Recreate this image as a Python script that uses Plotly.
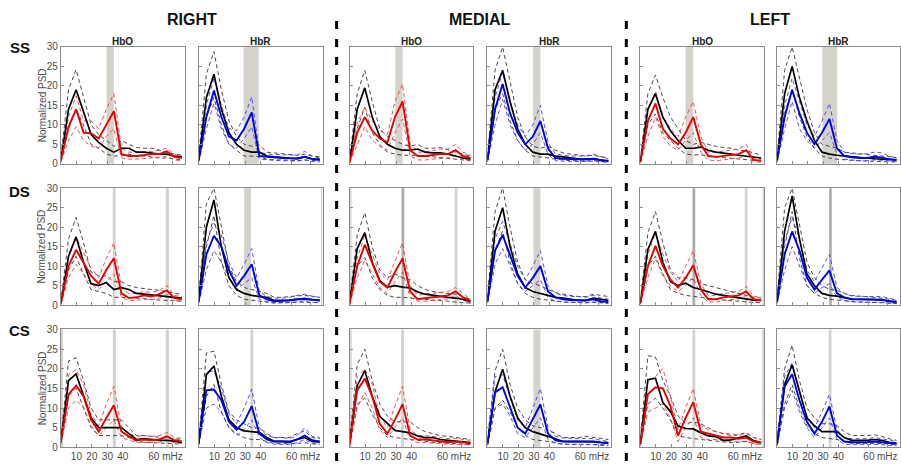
import plotly.graph_objects as go

# ---------------- data ----------------
freq = [0, 4.9, 9.8, 14.6, 19.5, 24.4, 29.3, 34.2, 39.1, 43.9, 48.8, 53.7, 58.6, 63.5, 68.4, 73.2, 78.1]
y_ticks = [0, 5, 10, 15, 20, 25, 30]
x_tickvals = [10, 20, 30, 40, 60, 72]
x_ticktext = ["10", "20", "30", "40", "60", "mHz"]
rows = ["SS", "DS", "CS"]
regions = ["RIGHT", "MEDIAL", "LEFT"]
chromophores = ["HbO", "HbR"]

# suffix: k = black mean, k_hi/k_lo = black bounds, c = coloured mean, c_hi/c_lo = coloured bounds
# ---- SS ----
ss_right_hbo_k = [1, 14, 19, 13, 7.5, 5.5, 4, 3, 4, 4, 3, 3, 2.8, 2.5, 2.5, 2, 1.8]
ss_right_hbo_k_hi = [2, 19, 24.2, 17, 10, 7.5, 6, 4.5, 6, 5, 4.2, 4, 4, 3.5, 3, 2.5, 2.2]
ss_right_hbo_k_lo = [0.5, 9, 14, 10, 5, 4, 2.5, 2, 2, 2.5, 2, 2, 1.8, 1.5, 1.5, 1.2, 1]
ss_right_hbo_c = [1, 9.5, 14, 8, 7.8, 6.5, 10, 13.5, 2.5, 2, 2, 2.2, 2.5, 2.5, 3.2, 1.8, 1.5]
ss_right_hbo_c_hi = [1.5, 12, 17.5, 11, 11, 9, 14, 18, 4, 3, 3, 3, 3.2, 3.5, 4, 2.5, 2]
ss_right_hbo_c_lo = [0.5, 6, 9.5, 6, 4.5, 4, 7, 9, 1.5, 1.2, 1.2, 1.3, 1.5, 1.7, 2, 1, 0.8]

ss_right_hbr_k = [1, 17, 23, 14, 8, 5, 3.5, 3, 3, 2, 1.8, 1.6, 1.5, 1.4, 1.8, 1.3, 1.2]
ss_right_hbr_k_hi = [2, 23, 28.8, 19, 11, 7, 5, 4.5, 4.8, 3, 2.8, 2.6, 2.5, 2.2, 2.5, 2, 1.8]
ss_right_hbr_k_lo = [0.5, 12, 17, 10, 5, 3.5, 2, 2, 1.8, 1.2, 1, 1, 0.9, 0.8, 1, 0.8, 0.7]
ss_right_hbr_c = [1, 12, 18.8, 12, 7, 6, 9, 13.2, 2, 1.8, 1.7, 1.5, 1.4, 1.3, 1.8, 1.2, 1.0]
ss_right_hbr_c_hi = [1.5, 15, 22, 15, 9, 8.5, 12, 17.2, 3, 2.5, 2.4, 2.3, 2.2, 2.2, 3.2, 2, 1.5]
ss_right_hbr_c_lo = [0.5, 9, 15.5, 9, 5, 4, 6.5, 9.5, 1.2, 1, 0.9, 0.8, 0.8, 0.7, 1, 0.6, 0.5]

ss_medial_hbo_k = [0.5, 14, 19.5, 12, 7, 5, 4, 3.5, 3.5, 3.8, 3, 2.8, 2.8, 2.5, 2, 1.5, 1.2]
ss_medial_hbo_k_hi = [1, 18, 24, 16, 9, 7, 6, 5, 4.5, 5, 4, 4, 4.2, 3.5, 3, 2.5, 2]
ss_medial_hbo_k_lo = [0.3, 9, 14.5, 8, 5, 3, 2.5, 2.2, 2.2, 2.2, 2, 1.8, 1.6, 1.3, 1.2, 1, 0.8]
ss_medial_hbo_c = [0.5, 8, 12, 8.5, 6.5, 5.5, 12, 16, 3.5, 2, 2, 2.2, 2.5, 2.5, 3.5, 2, 1.5]
ss_medial_hbo_c_hi = [1, 10.5, 14.5, 11, 8.5, 7.5, 16, 20.5, 5, 3, 3, 3.5, 3.8, 3.8, 5, 3, 2.2]
ss_medial_hbo_c_lo = [0.2, 5, 9.5, 6, 4.5, 3.5, 8, 11.5, 2, 1, 1, 1.2, 1.3, 1.5, 2.2, 1.2, 0.8]

ss_medial_hbr_k = [1, 19, 24, 16, 9, 5, 3, 2.5, 2.5, 2, 1.8, 1.5, 1.3, 1.2, 1.3, 1, 0.8]
ss_medial_hbr_k_hi = [2, 24, 30, 21, 12, 7, 4.5, 4, 4.5, 3.5, 2.8, 2.5, 2.2, 2, 2.2, 1.8, 1.5]
ss_medial_hbr_k_lo = [0.5, 14, 18, 11, 6, 3.5, 2, 1.8, 1.5, 1.2, 1, 0.8, 0.8, 0.7, 0.8, 0.6, 0.5]
ss_medial_hbr_c = [1, 14, 20.5, 13, 8, 5, 7, 11, 4, 1.5, 1.3, 1.2, 1.2, 1.1, 1.3, 0.9, 0.7]
ss_medial_hbr_c_hi = [1.5, 17, 23.5, 16, 10, 7, 10, 15, 5.5, 2.5, 2.2, 2, 2, 2, 2.5, 1.8, 1.2]
ss_medial_hbr_c_lo = [0.5, 10, 16.5, 10, 6, 3.5, 5, 8, 2.5, 0.8, 0.7, 0.6, 0.6, 0.6, 0.7, 0.5, 0.4]

ss_left_hbo_k = [0.5, 14, 18, 12, 8.5, 6, 4, 4, 4.3, 3.5, 3, 2.8, 2.5, 2.2, 2, 1.8, 1.5]
ss_left_hbo_k_hi = [1, 18, 22.8, 17, 12, 9, 6, 5, 5.5, 5, 4.5, 4.2, 4, 3.5, 3.3, 2.8, 2.3]
ss_left_hbo_k_lo = [0.3, 10, 12.8, 8, 6, 4, 2.5, 2.3, 2.3, 2, 1.8, 1.6, 1.4, 1.2, 1, 0.9, 0.8]
ss_left_hbo_c = [0.5, 11, 15.5, 9, 6.5, 5, 8, 12, 5, 2, 1.8, 2, 2.2, 2.5, 3.5, 1, 0.8]
ss_left_hbo_c_hi = [1, 14, 18.5, 12, 9, 7, 12, 16, 7, 3, 3, 3.2, 3.5, 3.8, 5, 1.5, 1.2]
ss_left_hbo_c_lo = [0.2, 7, 12, 7, 4.5, 3.5, 6, 8, 3, 1, 0.8, 1, 1.2, 1.5, 2, 0.5, 0.4]

ss_left_hbr_k = [1, 18, 25, 17, 11, 6, 3, 2.5, 2.2, 2, 1.8, 1.6, 1.4, 1.3, 1.2, 1.1, 1]
ss_left_hbr_k_hi = [2, 24, 30, 22, 14, 8, 5, 4.5, 4, 3, 2.8, 2.6, 2.4, 2.2, 2, 1.8, 1.6]
ss_left_hbr_k_lo = [0.5, 13, 19, 12, 7, 4, 2, 1.5, 1.2, 1, 0.9, 0.8, 0.7, 0.7, 0.6, 0.5, 0.5]
ss_left_hbr_c = [1, 12, 19, 13, 8, 5, 8, 11.5, 4, 2, 1.7, 1.5, 1.5, 1.8, 1.6, 1.2, 1]
ss_left_hbr_c_hi = [1.5, 15, 22, 16, 10, 7, 11, 15.5, 6, 3, 2.6, 2.5, 2.6, 3, 2.8, 2, 1.5]
ss_left_hbr_c_lo = [0.5, 9, 16, 9, 6, 4, 6, 8, 2.5, 1.2, 1, 0.8, 0.8, 1, 0.9, 0.7, 0.5]

# ---- DS ----
ds_right_hbo_k = [0.5, 12.5, 17.5, 11, 5.5, 5, 5.8, 4, 4.5, 4, 3, 2.8, 2.5, 2.3, 2.2, 2, 1.8]
ds_right_hbo_k_hi = [1, 17, 22.5, 16, 8.5, 7.5, 7.5, 6, 6, 5, 4.5, 4.2, 4, 3.8, 3.5, 3, 2.8]
ds_right_hbo_k_lo = [0.2, 9, 12.5, 8, 4, 3.5, 3, 2, 2, 2, 1.8, 1.6, 1.5, 1.3, 1.2, 1.1, 1]
ds_right_hbo_c = [0.5, 10, 14.2, 11, 7.5, 5.5, 9, 12, 3, 1.8, 2, 2.5, 2.2, 2.8, 3.8, 1.8, 1.5]
ds_right_hbo_c_hi = [1, 13, 17.5, 13.5, 9.5, 7, 12, 16, 4.5, 3, 3, 3.5, 3.2, 3.8, 5, 2.5, 2.2]
ds_right_hbo_c_lo = [0.2, 7, 10.5, 8, 5.5, 4, 6, 8, 2, 1.2, 1.2, 1.5, 1.4, 1.8, 2.8, 1.2, 1]

ds_right_hbr_k = [1.5, 20, 27, 15, 7, 4, 3, 2.5, 2.2, 2, 1.2, 1.2, 1.3, 1.5, 1.5, 1.4, 1.2]
ds_right_hbr_k_hi = [2, 26, 30, 20, 10, 6, 4.5, 4, 3.5, 3, 2, 2, 2.2, 2.4, 2.5, 2.2, 2]
ds_right_hbr_k_lo = [0.5, 15, 23, 11, 5, 2.5, 1.5, 1.2, 1, 0.8, 0.6, 0.6, 0.7, 0.8, 0.8, 0.7, 0.6]
ds_right_hbr_c = [1, 13, 17.8, 15, 9, 5, 7.5, 10.5, 2.5, 1.5, 1, 1.1, 1.2, 1.5, 1.7, 1.4, 1.2]
ds_right_hbr_c_hi = [1.5, 16, 21, 18, 11, 7, 10.5, 14.5, 3.5, 2.2, 1.8, 1.8, 2, 2.5, 2.8, 2.3, 2]
ds_right_hbr_c_lo = [0.5, 9, 14, 11, 7, 4, 5.5, 7, 1.5, 0.8, 0.5, 0.5, 0.6, 0.8, 0.9, 0.7, 0.6]

ds_medial_hbo_k = [0.5, 14.5, 18.6, 11, 6.3, 4.6, 5, 4.6, 4.4, 3.4, 2.8, 2.5, 2.2, 2, 1.8, 1.5, 0.9]
ds_medial_hbo_k_hi = [1, 18, 23.7, 15, 9, 7, 8, 7, 6.5, 5, 4, 3.5, 3.2, 3, 2.8, 2.2, 1.5]
ds_medial_hbo_k_lo = [0.2, 10, 12.2, 7, 4, 2.5, 2, 2, 1.8, 1.7, 1.5, 1.3, 1.2, 1, 0.8, 0.6, 0.5]
ds_medial_hbo_c = [0.5, 10, 15.5, 11, 6, 4.5, 8.5, 12, 3.5, 1.5, 1.8, 2, 2.2, 2.5, 3.5, 2, 1]
ds_medial_hbo_c_hi = [1, 12, 18, 13, 8, 6.5, 11.5, 16, 5, 2.5, 2.8, 3, 3.2, 3.5, 4.5, 3, 1.5]
ds_medial_hbo_c_lo = [0.2, 7, 11.5, 8, 4.5, 3, 6, 8.5, 2, 1, 1, 1.2, 1.4, 1.6, 2.5, 1.2, 0.6]

ds_medial_hbr_k = [1, 19, 25, 15, 8, 4.5, 3.5, 3, 2.5, 2, 1.8, 1.5, 1.2, 1.2, 1.8, 1.5, 1.2]
ds_medial_hbr_k_hi = [2, 24, 30, 20, 11, 6.5, 5.5, 5, 4, 3.2, 2.8, 2.5, 2.2, 2.2, 2.8, 2.5, 2.2]
ds_medial_hbr_k_lo = [0.5, 14, 19, 11, 5.5, 3, 2, 1.5, 1.3, 1, 0.8, 0.7, 0.6, 0.6, 0.8, 0.7, 0.6]
ds_medial_hbr_c = [1, 14, 18, 13, 7.5, 4.5, 7, 10, 3.5, 2, 1.5, 1.3, 1.3, 1.2, 1.5, 1, 0.8]
ds_medial_hbr_c_hi = [1.5, 17, 21.5, 16, 10, 6.5, 10, 14, 5, 3, 2.5, 2.2, 2.2, 2, 2.5, 1.8, 1.5]
ds_medial_hbr_c_lo = [0.5, 10.5, 14.5, 10, 5.5, 3.5, 5, 6.5, 2, 1, 0.8, 0.7, 0.6, 0.6, 0.7, 0.5, 0.4]

ds_left_hbo_k = [0.5, 14.3, 18.9, 11, 6, 5, 5.6, 4.5, 4, 3.5, 2.8, 2.5, 2.2, 1.8, 1.5, 1.3, 1.2]
ds_left_hbo_k_hi = [1, 18.5, 24, 16, 9, 7, 7, 6.5, 5.5, 5, 4.5, 4, 3.5, 3, 2.5, 2, 1.8]
ds_left_hbo_k_lo = [0.2, 10, 12.5, 8, 4, 3, 2.5, 2.2, 2, 1.8, 1.5, 1.3, 1.2, 1, 0.8, 0.7, 0.6]
ds_left_hbo_c = [0.5, 10, 15.2, 10, 6.5, 4.5, 7, 10.2, 4, 1.5, 1.5, 2, 2.2, 2.5, 3.5, 1.5, 1.2]
ds_left_hbo_c_hi = [1, 13, 18.5, 13, 8.5, 6, 10, 14, 5.5, 2.5, 2.5, 3, 3.2, 3.5, 4.8, 2.3, 2]
ds_left_hbo_c_lo = [0.2, 7, 12, 7.5, 5, 3.5, 5, 7, 2.5, 0.8, 0.8, 1.2, 1.4, 1.6, 2.5, 0.8, 0.7]

ds_left_hbr_k = [1, 19, 28, 17, 8, 5, 3, 2.5, 2.3, 2, 1.5, 1.5, 1.5, 1.4, 1.3, 1, 0.8]
ds_left_hbr_k_hi = [2, 25, 30, 21, 11, 7, 5, 4, 3.8, 3, 2.5, 2.3, 2.2, 2, 1.8, 1.5, 1.2]
ds_left_hbr_k_lo = [0.5, 15, 24, 12, 5, 3, 2, 1.5, 1.3, 1.1, 0.9, 0.8, 0.7, 0.7, 0.6, 0.5, 0.4]
ds_left_hbr_c = [1, 13, 18.9, 14, 7, 4, 6.5, 8.9, 3, 2, 1.5, 1.5, 1.5, 1.5, 1.4, 1, 0.8]
ds_left_hbr_c_hi = [1.5, 16.5, 22.5, 17, 9, 6, 9.5, 13, 4.5, 3, 2.3, 2.2, 2.2, 2.2, 2.2, 1.8, 1.3]
ds_left_hbr_c_lo = [0.5, 9, 15, 10, 5, 3, 4.5, 5.5, 2, 1.2, 0.8, 0.8, 0.8, 0.8, 0.7, 0.5, 0.4]

# ---- CS ----
cs_right_hbo_k = [1.5, 17, 18.7, 13, 7.5, 5, 5, 5, 5, 3.5, 2, 2.2, 2, 1.8, 1.8, 1.6, 1.2]
cs_right_hbo_k_hi = [2, 22, 22.8, 17, 10, 7, 7, 7, 7, 5, 3, 3, 2.8, 2.6, 2.5, 2.2, 2]
cs_right_hbo_k_lo = [1, 13, 15, 10, 5, 3, 3, 3, 3, 2.5, 1.5, 1.3, 1.2, 1.1, 1, 0.9, 0.8]
cs_right_hbo_c = [1.5, 13.5, 15.7, 13, 7, 4, 7.5, 10.7, 4, 2.8, 1.8, 2, 1.8, 2, 2.8, 1.8, 1.5]
cs_right_hbo_c_hi = [2, 18.5, 19.8, 16, 8.5, 5.5, 11, 15.5, 5, 3.5, 2.8, 3, 2.8, 3, 3.8, 2.5, 2.3]
cs_right_hbo_c_lo = [1, 10, 12, 10, 5.5, 3, 5, 7, 2.5, 1.8, 1.2, 1.2, 1.2, 1.3, 1.8, 1.2, 1]

cs_right_hbr_k = [1, 18.5, 20.7, 13, 7, 5, 4.2, 4, 3.8, 2.5, 1.5, 1.5, 1.5, 2, 2.5, 1.5, 1.3]
cs_right_hbr_k_hi = [2, 24, 24.5, 16, 9, 7, 6, 5, 5, 3.5, 2.5, 2.5, 2.5, 3.5, 4.2, 2.5, 2.2]
cs_right_hbr_k_lo = [0.5, 13, 16, 9, 5, 3.5, 2.5, 2, 2, 1.5, 1, 0.9, 0.9, 1, 1.2, 0.9, 0.8]
cs_right_hbr_c = [1.5, 14.5, 14.7, 12, 6.5, 4.5, 6.5, 10.5, 3.5, 2, 1.5, 1.5, 1.3, 2, 3, 1.8, 1.5]
cs_right_hbr_c_hi = [2, 19, 19.5, 15, 8.5, 6, 10, 14.8, 5, 3, 2.5, 2.5, 2.2, 3, 5, 2.8, 2.5]
cs_right_hbr_c_lo = [1, 10, 11, 9, 5, 3, 4.5, 7, 2.5, 1.2, 0.8, 0.8, 0.7, 1.2, 2, 1, 0.8]

cs_medial_hbo_k = [1, 15.7, 19.5, 13, 7.9, 6.2, 4.3, 4, 3.7, 2.9, 2.5, 2.5, 2, 1.8, 1.6, 1.4, 1.2]
cs_medial_hbo_k_hi = [2, 21, 25, 17, 11, 8, 6.5, 6.5, 6.5, 5, 4, 3.5, 3, 2.8, 2.5, 2.2, 2]
cs_medial_hbo_k_lo = [0.5, 11, 12.5, 8.5, 5, 3, 2.5, 2.2, 2, 1.8, 1.5, 1.3, 1.2, 1, 0.9, 0.8, 0.7]
cs_medial_hbo_c = [0.8, 14.5, 17.5, 13, 6, 3.5, 7, 11, 3, 2, 2, 1.8, 1.5, 1.3, 1.5, 1.2, 1]
cs_medial_hbo_c_hi = [1.5, 18, 20, 16, 8, 5, 10.5, 15.5, 4.5, 3, 3, 2.8, 2.5, 2.2, 2.3, 2, 1.8]
cs_medial_hbo_c_lo = [0.3, 10, 14, 10, 4.5, 2.5, 5, 7.5, 2, 1.2, 1.2, 1, 0.9, 0.8, 0.8, 0.7, 0.6]

cs_medial_hbr_k = [1, 14.1, 19.9, 13, 7.5, 5, 4, 3.3, 2.8, 2.2, 1.5, 1.5, 1.5, 1.5, 1.5, 1.3, 1.2]
cs_medial_hbr_k_hi = [2, 19.5, 25, 16, 10, 7, 5.5, 5, 4.5, 3.5, 2.5, 2.5, 2.5, 2.8, 2.6, 2.3, 2]
cs_medial_hbr_k_lo = [0.5, 10, 12, 9, 5, 3, 2, 1.8, 1.5, 1.2, 0.8, 0.8, 0.8, 0.8, 0.8, 0.7, 0.6]
cs_medial_hbr_c = [1, 14, 15.3, 10, 5, 3.5, 7, 10.9, 3.5, 1.8, 1.5, 1.5, 1.4, 1.5, 1.4, 1.2, 1]
cs_medial_hbr_c_hi = [1.5, 18, 18.5, 13, 7, 5, 10, 15, 5, 2.8, 2.4, 2.3, 2.2, 2.3, 2.2, 1.8, 1.5]
cs_medial_hbr_c_lo = [0.5, 10, 11, 8, 3.5, 2.5, 5, 7.5, 2, 1, 0.8, 0.7, 0.7, 0.7, 0.7, 0.5, 0.4]

cs_left_hbo_k = [1, 17.2, 17.6, 11.4, 9.1, 5.4, 4.8, 4.7, 3.7, 2.9, 2.7, 1.8, 1.9, 2.5, 2.9, 1.7, 1.2]
cs_left_hbo_k_hi = [2, 23.3, 23, 17, 13, 8, 6, 6.5, 6, 5, 4, 3.5, 3, 3.2, 3.8, 2.5, 2]
cs_left_hbo_k_lo = [0.5, 11, 12.5, 10, 7, 3, 2.5, 2.2, 2, 1.8, 1.6, 1.3, 1.2, 1.3, 1.5, 1, 0.8]
cs_left_hbo_c = [0.8, 13.5, 15.3, 15, 10.5, 3, 7.5, 11.5, 4, 3.5, 3, 2.5, 2.5, 2.2, 2.5, 1.5, 1.2]
cs_left_hbo_c_hi = [1.5, 17, 18, 20, 13, 4.5, 10, 15, 5.5, 4.5, 4, 3.5, 3.5, 3, 3.5, 2.5, 2]
cs_left_hbo_c_lo = [0.3, 9, 10, 11, 7.5, 1.5, 5, 7.5, 2.5, 2, 2, 1.6, 1.5, 1.4, 1.6, 0.9, 0.7]

cs_left_hbr_k = [1, 16, 21, 14, 7.5, 5.5, 4, 4, 4, 2.5, 1.8, 1.8, 1.8, 2, 1.8, 1.3, 1]
cs_left_hbr_k_hi = [2, 20, 26, 17, 10, 7.5, 6, 6, 5.5, 4, 3, 3, 3, 3.2, 2.8, 2.2, 1.8]
cs_left_hbr_k_lo = [0.5, 11, 16, 10, 5.5, 3.5, 2.5, 2.2, 2, 1.5, 1, 1, 1, 1.1, 1, 0.8, 0.6]
cs_left_hbr_c = [1, 15.5, 18.6, 12, 6.5, 3.5, 6.5, 10.4, 3, 1.5, 1.3, 1.3, 1.3, 1.5, 1.3, 1.1, 0.9]
cs_left_hbr_c_hi = [1.5, 18, 21.5, 14, 8, 5, 9, 13.5, 4.5, 2.5, 2.2, 2.2, 2.2, 2.5, 2.2, 1.8, 1.5]
cs_left_hbr_c_lo = [0.5, 10, 14.5, 9, 5, 2.5, 5, 7.5, 2, 0.8, 0.7, 0.7, 0.7, 0.8, 0.7, 0.5, 0.4]

# shaded significant frequency bands per panel (mHz): (start, end, shade)
bands = {
    "ss_right_hbo": [(29.5, 34.2, "l")],
    "ss_right_hbr": [(29.0, 38.7, "l")],
    "ss_medial_hbo": [(29.5, 34.2, "l")],
    "ss_medial_hbr": [(29.5, 34.2, "l")],
    "ss_left_hbo": [(29.3, 34.2, "l")],
    "ss_left_hbr": [(29.5, 39.3, "l")],
    "ds_right_hbo": [(33.5, 35.3, "l"), (67.7, 69.7, "l")],
    "ds_right_hbr": [(29.3, 33.7, "l"), (79.0, 80.0, "l")],
    "ds_medial_hbo": [(0.0, 1.2, "l"), (33.5, 35.3, "d"), (67.9, 69.7, "l")],
    "ds_medial_hbr": [(29.7, 34.2, "l")],
    "ds_left_hbo": [(33.7, 35.5, "d"), (67.5, 69.2, "l"), (79.0, 80.0, "l")],
    "ds_left_hbr": [(34.0, 35.7, "d")],
    "cs_right_hbo": [(0.0, 1.3, "l"), (33.5, 35.5, "l"), (67.7, 69.7, "l")],
    "cs_right_hbr": [(33.3, 35.2, "l")],
    "cs_medial_hbo": [(0.0, 1.3, "l"), (33.3, 35.1, "l")],
    "cs_medial_hbr": [(29.7, 34.2, "l")],
    "cs_left_hbo": [(33.7, 35.5, "l"), (78.8, 80.0, "l")],
    "cs_left_hbr": [(33.7, 35.5, "l")],
}

# ---------------- layout geometry ----------------
W, H = 901, 467
col_px = [(61, 185), (199, 323), (350, 474), (488, 612), (641, 765), (778, 900.5)]
row_px = [(42, 162), (187, 307), (332, 453)]
BAND_SHADE = {"l": "#d5d2cc", "d": "#ababab"}
AX_COLOR = "#8c8c8c"
TXT_COLOR = "#4d4d4d"
FONT = "Liberation Sans, Arial, sans-serif"

fig = go.Figure()
layout = dict(
    width=W, height=H, margin=dict(l=0, r=0, t=0, b=0),
    paper_bgcolor="white", plot_bgcolor="white", showlegend=False,
    font=dict(family=FONT, color=TXT_COLOR, size=10),
)
shapes, annotations = [], []

g = globals()
for r, row in enumerate(rows):
    for ci in range(6):
        region = regions[ci // 2]
        chrom = chromophores[ci % 2]
        key = f"{row.lower()}_{region.lower()}_{chrom.lower()}"
        n = r * 6 + ci + 1
        xa = "x" if n == 1 else f"x{n}"
        ya = "y" if n == 1 else f"y{n}"
        colour = "#e60000" if chrom == "HbO" else "#0000e6"
        dcolour = "#e84040" if chrom == "HbO" else "#4040e8"
        series = [
            (g[key + "_k_hi"], "#333333", 0.9, "4px,3px"),
            (g[key + "_k_lo"], "#333333", 0.9, "4px,3px"),
            (g[key + "_c_hi"], dcolour, 0.9, "4px,3px"),
            (g[key + "_c_lo"], dcolour, 0.9, "4px,3px"),
            (g[key + "_k"], "#000000", 1.7, "solid"),
            (g[key + "_c"], colour, 1.9, "solid"),
        ]
        for vals, colr, lw, dash in series:
            fig.add_trace(go.Scatter(
                x=freq, y=vals, mode="lines", xaxis=xa, yaxis=ya,
                line=dict(color=colr, width=lw, dash=dash),
                hoverinfo="skip", cliponaxis=True,
            ))
        for (b0, b1, sh) in bands[key]:
            shapes.append(dict(
                type="rect", xref=xa, yref=f"{ya} domain", x0=b0, x1=b1, y0=0, y1=1,
                fillcolor=BAND_SHADE[sh], line=dict(width=0), layer="below",
            ))
        x0p, x1p = col_px[ci]
        y0p, y1p = row_px[r]
        xname = "xaxis" if n == 1 else f"xaxis{n}"
        yname = "yaxis" if n == 1 else f"yaxis{n}"
        layout[xname] = dict(
            domain=[x0p / W, x1p / W], anchor=ya, range=[0, 80],
            showgrid=False, zeroline=False, showline=True, linecolor=AX_COLOR,
            linewidth=1, mirror=True, ticks="inside", ticklen=3, tickcolor=AX_COLOR,
            tickvals=x_tickvals, ticktext=x_ticktext, showticklabels=(r == 2),
            tickfont=dict(size=10, color=TXT_COLOR), fixedrange=True,
        )
        layout[yname] = dict(
            domain=[1 - y1p / H, 1 - y0p / H], anchor=xa, range=[0, 30],
            showgrid=False, zeroline=False, showline=True, linecolor=AX_COLOR,
            linewidth=1, mirror=True, ticks="inside", ticklen=3, tickcolor=AX_COLOR,
            tickvals=y_ticks, showticklabels=(ci == 0),
            tickfont=dict(size=10, color=TXT_COLOR), fixedrange=True,
        )
        if ci == 0:
            annotations.append(dict(
                text="Normalized PSD", textangle=-90, xref="paper", yref="paper",
                x=42 / W, y=1 - (y0p + y1p) / 2 / H, showarrow=False,
                font=dict(size=10, color=TXT_COLOR), xanchor="center", yanchor="middle",
            ))
        if r == 0:
            annotations.append(dict(
                text=f"<b>{chrom}</b>", xref="paper", yref="paper",
                x=(x0p + x1p) / 2 / W, y=1 - 36 / H, showarrow=False,
                font=dict(size=10, color="#222222"), xanchor="center", yanchor="middle",
            ))

# row labels
row_label_y = [43, 190, 333]
for r, row in enumerate(rows):
    annotations.append(dict(
        text=f"<b>{row}</b>", xref="paper", yref="paper", x=20 / W, y=1 - row_label_y[r] / H,
        showarrow=False, font=dict(size=15, color="#111111"), xanchor="center", yanchor="middle",
    ))
# region titles
for k, region in enumerate(regions):
    xc = (col_px[2 * k][0] + col_px[2 * k + 1][1]) / 2
    annotations.append(dict(
        text=f"<b>{region}</b>", xref="paper", yref="paper", x=xc / W, y=1 - 14 / H,
        showarrow=False, font=dict(size=16, color="#111111"), xanchor="center", yanchor="middle",
    ))
# dashed separators between regions
for xs in (337, 627):
    shapes.append(dict(
        type="line", xref="paper", yref="paper", x0=xs / W, x1=xs / W, y0=0, y1=1 - 9 / H,
        line=dict(color="black", width=3, dash="8px,10px"),
    ))

layout["shapes"] = shapes
layout["annotations"] = annotations
fig.update_layout(**layout)
fig.write_html("out.html")
